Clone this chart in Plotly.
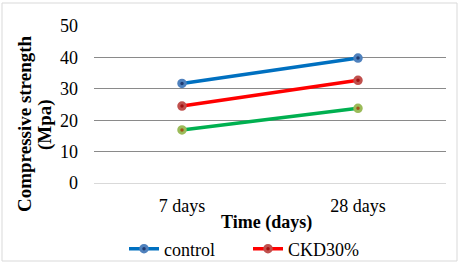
import plotly.graph_objects as go

categories = ["7 days", "28 days"]
control = [31.7, 39.8]
ckd30 = [24.5, 32.7]
third = [16.9, 23.8]
y_ticks = [0, 10, 20, 30, 40, 50]

L, R, T, B = 94, 15, 26, 82
W, H = 461, 265
pw, ph = W - L - R, H - T - B

def px_x(px):
    return (px - L) / pw

def px_y(py):
    return (H - B - py) / ph

font = "Liberation Serif, Times New Roman, serif"

fig = go.Figure()

def add(name, vals, line_color, fill, edge, show=True):
    fig.add_trace(go.Scatter(
        x=categories, y=vals, name=name, mode="lines+markers",
        line=dict(color=line_color, width=3.5),
        marker=dict(size=6.5, color=fill, line=dict(color=edge, width=3)),
        showlegend=show,
    ))

add("control", control, "#0070c0", "#1f3a70", "#4f81bd")
add("CKD30%", ckd30, "#ff0000", "#a01010", "#c0504d")
add("series3", third, "#00b050", "#a0521a", "#9bbb59", show=False)

fig.update_layout(
    width=W, height=H,
    margin=dict(l=L, r=R, t=T, b=B, autoexpand=False),
    paper_bgcolor="white", plot_bgcolor="white",
    font=dict(family=font, size=18, color="black"),
    showlegend=True,
    legend=dict(orientation="h", x=px_x(124), xanchor="left", y=px_y(249), yanchor="middle",
                font=dict(family=font, size=18), entrywidth=79, entrywidthmode="pixels",
                tracegroupgap=0, bgcolor="rgba(0,0,0,0)"),
    xaxis=dict(type="category", range=[-0.5, 1.5], showgrid=False, showline=False,
               zeroline=False, ticks="", tickfont=dict(family=font, size=18),
               ticklabelstandoff=10),
    yaxis=dict(range=[0, 50], tickvals=y_ticks, showgrid=True, gridcolor="#8a8a8a",
               gridwidth=1, zeroline=True, zerolinecolor="#d9d9d9", zerolinewidth=1,
               showline=False, ticks="", tickfont=dict(family=font, size=18),
               ticklabelstandoff=15),
    shapes=[dict(type="rect", xref="paper", yref="paper",
                 x0=px_x(2), x1=px_x(457), y0=px_y(261), y1=px_y(3),
                 line=dict(color="#d9d9d9", width=1), fillcolor="rgba(0,0,0,0)", layer="below")],
    annotations=[
        dict(text="<b>Time (days)</b>", xref="paper", yref="paper", x=px_x(266), y=px_y(222),
             showarrow=False, xanchor="center", yanchor="middle", font=dict(family=font, size=18)),
        dict(text="<b>Compressive strength</b>", xref="paper", yref="paper", x=px_x(24), y=px_y(124),
             showarrow=False, textangle=-90, xanchor="center", yanchor="middle",
             font=dict(family=font, size=19)),
        dict(text="<b>(Mpa)</b>", xref="paper", yref="paper", x=px_x(45), y=px_y(125),
             showarrow=False, textangle=-90, xanchor="center", yanchor="middle",
             font=dict(family=font, size=19)),
    ],
)

fig.write_html("out.html", config={"displayModeBar": False},
               post_script="document.body.style.margin='0';document.body.style.padding='0';")
